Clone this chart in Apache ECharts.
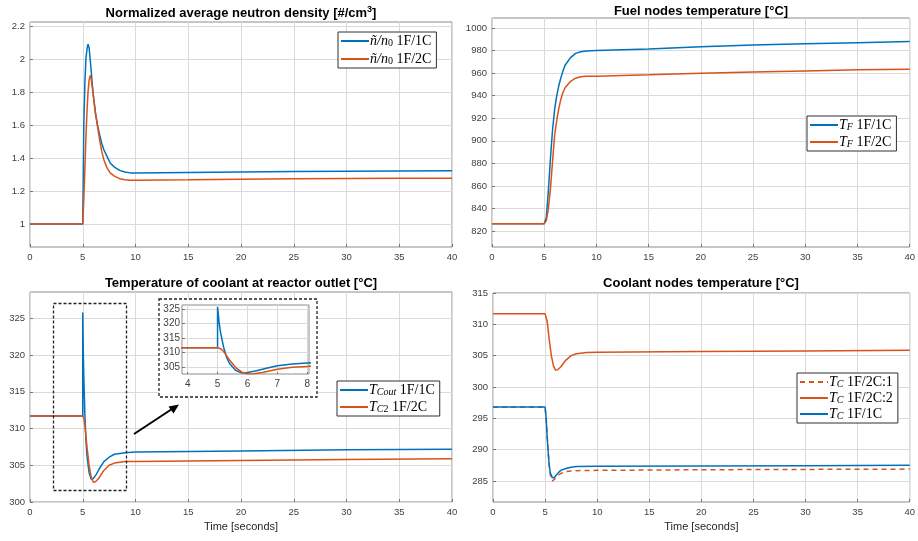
<!DOCTYPE html>
<html><head><meta charset="utf-8">
<script src="https://cdn.jsdelivr.net/npm/echarts@6/dist/echarts.min.js"></script>
<style>html,body{margin:0;padding:0;background:#fff}#c{width:918px;height:541px}</style>
</head><body><div id="c"></div>
<script>
// ---------- data ----------
const xTicks = [0, 5, 10, 15, 20, 25, 30, 35, 40];
const insetXTicks = [4, 5, 6, 7, 8];

// Panel 1: normalized neutron density
const tN1 = [0, 5, 5.05, 5.1, 5.2, 5.3, 5.4, 5.5, 5.55, 5.6, 5.7, 5.8, 5.9, 6.0, 6.2, 6.4, 6.6, 6.8, 7.0, 7.3, 7.6, 8.0, 8.5, 9.0, 9.5, 10, 15, 20, 25, 30, 35, 40];
const nBlue = [1, 1, 1.3, 1.6, 1.85, 2.0, 2.06, 2.09, 2.09, 2.07, 2.0, 1.93, 1.85, 1.78, 1.67, 1.6, 1.54, 1.49, 1.45, 1.41, 1.37, 1.345, 1.325, 1.315, 1.31, 1.31, 1.313, 1.316, 1.318, 1.32, 1.322, 1.323];
const tN2 = [0, 5, 5.1, 5.2, 5.3, 5.4, 5.5, 5.6, 5.7, 5.8, 5.9, 6.0, 6.2, 6.4, 6.6, 6.8, 7.0, 7.3, 7.6, 8.0, 8.5, 9.0, 9.5, 10, 15, 20, 25, 30, 35, 40];
const nOrange = [1, 1, 1.15, 1.33, 1.52, 1.68, 1.8, 1.87, 1.9, 1.88, 1.83, 1.78, 1.68, 1.59, 1.51, 1.44, 1.39, 1.34, 1.31, 1.29, 1.275, 1.268, 1.265, 1.265, 1.268, 1.272, 1.274, 1.276, 1.277, 1.278];
const yTicksN = [1, 1.2, 1.4, 1.6, 1.8, 2, 2.2];

// Panel 2: fuel nodes temperature
const tF = [0, 5, 5.2, 5.4, 5.6, 5.8, 6.0, 6.2, 6.4, 6.6, 6.8, 7.0, 7.5, 8.0, 8.5, 9.0, 10, 15, 20, 25, 30, 35, 40];
const fBlue = [826.5, 826.5, 832, 856, 885, 910, 928, 940, 949, 956, 962, 967, 973.5, 977.5, 979, 979.6, 980, 981.5, 983.5, 985, 986, 987, 988];
const fOrange = [826.5, 826.5, 829, 840, 858, 882, 905, 918, 929, 937, 943, 947, 952.5, 955.5, 956.8, 957.2, 957.3, 958.5, 960, 961, 962, 963, 963.5];
const yTicksF = [820, 840, 860, 880, 900, 920, 940, 960, 980, 1000];

// Panel 3: coolant at reactor outlet
const tCb = [0, 5, 5, 5.05, 5.1, 5.2, 5.3, 5.4, 5.6, 5.8, 6.0, 6.3, 6.6, 7.0, 7.5, 8, 9, 10, 20, 30, 40];
const cBlue = [311.7, 311.7, 325.8, 320.5, 317, 312, 308.5, 306.3, 304, 303.1, 303.2, 303.8, 304.6, 305.5, 306.1, 306.5, 306.7, 306.8, 306.95, 307.1, 307.2];
const tCo = [0, 5, 5.1, 5.2, 5.3, 5.4, 5.6, 5.8, 6.0, 6.2, 6.5, 7.0, 7.5, 8, 9, 10, 20, 30, 40];
const cOrange = [311.7, 311.7, 311.4, 310.5, 309, 307.5, 305, 303.4, 302.7, 302.75, 303.2, 304.3, 305.0, 305.3, 305.5, 305.5, 305.65, 305.8, 305.9];
const yTicksC = [300, 305, 310, 315, 320, 325];
const insetYTicks = [305, 310, 315, 320, 325];

// Panel 4: coolant nodes temperature
const tK = [0, 5, 5.1, 5.2, 5.3, 5.4, 5.5, 5.7, 5.9, 6.2, 6.5, 7, 7.5, 8, 10, 20, 30, 40];
const kBlue = [296.8, 296.8, 295, 292, 289.5, 287.5, 286.3, 285.5, 285.6, 286.2, 286.7, 287.0, 287.2, 287.3, 287.35, 287.4, 287.45, 287.5];
const kDash = [296.8, 296.8, 295.2, 292.3, 289.6, 287.4, 286.0, 285.0, 285.3, 285.8, 286.2, 286.5, 286.6, 286.65, 286.7, 286.8, 286.85, 286.9];
const tK2 = [0, 5, 5.1, 5.2, 5.3, 5.4, 5.6, 5.8, 6.0, 6.2, 6.5, 7.0, 7.5, 8, 9, 10, 20, 30, 40];
const kSolid = [311.7, 311.7, 311.4, 310.5, 309, 307.5, 305, 303.4, 302.7, 302.75, 303.2, 304.3, 305.0, 305.3, 305.5, 305.55, 305.65, 305.75, 305.85];
const yTicksK = [285, 290, 295, 300, 305, 310, 315];

// ---------- helpers ----------
const BLUE = '#0072BD', ORANGE = '#D95319';
const zip = (t, v) => t.map((x, i) => [x, v[i]]);
const labelStyle = {color: '#404040', fontSize: 9.5, fontFamily: 'Liberation Sans, Arial, sans-serif', formatter: v => String(v)};

function xAx(grid, extra) {
  return Object.assign({
    type: 'value', gridIndex: grid, min: 0, max: 40,
    axisLine: {show: false},
    axisTick: {show: true, inside: true, length: 3, lineStyle: {color: '#777'}, customValues: xTicks},
    axisLabel: Object.assign({margin: 5, customValues: xTicks}, labelStyle),
    splitLine: {show: true, lineStyle: {color: '#dadada', width: 1}}
  }, extra || {});
}
function yAx(grid, min, max, ticks, extra) {
  return Object.assign({
    type: 'value', gridIndex: grid, min: min, max: max,
    axisLine: {show: false},
    axisTick: {show: true, inside: true, length: 3, lineStyle: {color: '#777'}, customValues: ticks},
    axisLabel: Object.assign({margin: 5, customValues: ticks}, labelStyle),
    splitLine: {show: true, lineStyle: {color: '#dadada', width: 1}}
  }, extra || {});
}
function line(name, xi, yi, t, v, color, extra) {
  return Object.assign({
    name: name, type: 'line', xAxisIndex: xi, yAxisIndex: yi, data: zip(t, v),
    symbol: 'none', showSymbol: false, animation: false, clip: true,
    lineStyle: {color: color, width: 1.5}, itemStyle: {color: color}
  }, extra || {});
}

const legendText = {
  n1: '{i|ñ/n}{s|0}{r| 1F/1C}',
  n2: '{i|ñ/n}{s|0}{r| 1F/2C}',
  f1: '{i|T}{si|F}{r| 1F/1C}',
  f2: '{i|T}{si|F}{r| 1F/2C}',
  c1: '{i|T}{si|Cout}{r| 1F/1C}',
  c2: '{i|T}{si|C}{s|2}{r| 1F/2C}',
  k1: '{i|T}{si|C}{r| 1F/2C:1}',
  k2: '{i|T}{si|C}{r| 1F/2C:2}',
  k3: '{i|T}{si|C}{r| 1F/1C}'
};
const SERIF = 'Liberation Serif, DejaVu Serif, serif';
const legendRich = {
  i: {fontFamily: SERIF, fontStyle: 'italic', fontSize: 14, lineHeight: 14, color: '#000', verticalAlign: 'middle'},
  r: {fontFamily: SERIF, fontSize: 14, lineHeight: 14, color: '#000', verticalAlign: 'middle'},
  s: {fontFamily: SERIF, fontSize: 10, lineHeight: 9, color: '#000', verticalAlign: 'bottom'},
  si: {fontFamily: SERIF, fontStyle: 'italic', fontSize: 10, lineHeight: 9, color: '#000', verticalAlign: 'bottom'}
};
function legend(names, left, top, gap) {
  return {
    data: names, left: left, top: top, orient: 'vertical',
    backgroundColor: '#fff', borderColor: '#303030', borderWidth: 1,
    padding: [2, 5, 2, 2], itemWidth: 28, itemHeight: 13, itemGap: gap,
    selectedMode: false,
    itemStyle: {color: 'rgba(0,0,0,0)', borderWidth: 0, opacity: 0},
    formatter: n => legendText[n],
    textStyle: {padding: [0, 0, 0, -4], rich: legendRich}
  };
}

const titleStyle = {fontFamily: 'Liberation Sans, Arial, sans-serif', fontWeight: 'bold', fontSize: 13, fill: '#000'};
function title(x, y, text, rich) {
  return {type: 'text', x: x, y: y, z: 10,
    style: Object.assign({text: text, align: 'center', verticalAlign: 'middle', rich: rich}, titleStyle)};
}
const titleRich = {
  b: {fontFamily: 'Liberation Sans, Arial, sans-serif', fontWeight: 'bold', fontSize: 13, lineHeight: 16, color: '#000'},
  sup: {fontFamily: 'Liberation Sans, Arial, sans-serif', fontWeight: 'bold', fontSize: 9, lineHeight: 9, color: '#000', verticalAlign: 'top'}
};

const gridBase = {show: true, borderColor: '#8c8c8c', borderWidth: 1, backgroundColor: 'transparent', containLabel: false};
const nameStyle = {color: '#262626', fontSize: 11, fontFamily: 'Liberation Sans, Arial, sans-serif'};

const option = {
  animation: false,
  backgroundColor: '#fff',
  grid: [
    Object.assign({left: 30, top: 22, width: 422, height: 225}, gridBase),
    Object.assign({left: 492, top: 18, width: 418, height: 229}, gridBase),
    Object.assign({left: 30, top: 292, width: 422, height: 210}, gridBase),
    Object.assign({left: 493, top: 293, width: 417, height: 209}, gridBase),
    Object.assign({left: 182, top: 305, width: 127, height: 69}, gridBase, {backgroundColor: '#fff', z: 3})
  ],
  xAxis: [
    xAx(0), xAx(1),
    xAx(2, {name: 'Time [seconds]', nameLocation: 'middle', nameGap: 19, nameTextStyle: nameStyle}),
    xAx(3, {name: 'Time [seconds]', nameLocation: 'middle', nameGap: 19, nameTextStyle: nameStyle}),
    {
      type: 'value', gridIndex: 4, min: 3.81, max: 8.06, z: 3,
      axisLine: {show: false},
      axisTick: {show: true, inside: true, length: 2, lineStyle: {color: '#777'}, customValues: insetXTicks},
      axisLabel: Object.assign({}, labelStyle, {margin: 5, fontSize: 10, customValues: insetXTicks}),
      splitLine: {show: true, lineStyle: {color: '#dadada'}}
    }
  ],
  yAxis: [
    yAx(0, 0.861, 2.224, yTicksN),
    yAx(1, 805.8, 1008.9, yTicksF),
    yAx(2, 300, 328.6, yTicksC),
    yAx(3, 281.65, 315, yTicksK),
    yAx(4, 302.7, 326.4, insetYTicks, {z: 3, axisLabel: Object.assign({}, labelStyle, {margin: 2, fontSize: 10, customValues: insetYTicks})})
  ],
  legend: [
    legend(['n1', 'n2'], 338, 32, 4),
    legend(['f1', 'f2'], 807, 116, 3),
    legend(['c1', 'c2'], 337, 381, 3),
    legend(['k1', 'k2', 'k3'], 797, 373, 2)
  ],
  series: [
    line('n1', 0, 0, tN1, nBlue, BLUE),
    line('n2', 0, 0, tN2, nOrange, ORANGE),
    line('f1', 1, 1, tF, fBlue, BLUE),
    line('f2', 1, 1, tF, fOrange, ORANGE),
    line('c1', 2, 2, tCb, cBlue, BLUE),
    line('c2', 2, 2, tCo, cOrange, ORANGE),
    line('k1', 3, 3, tK, kDash, ORANGE, {lineStyle: {color: ORANGE, width: 1.5, type: [5, 4]}}),
    line('k2', 3, 3, tK2, kSolid, ORANGE),
    line('k3', 3, 3, tK, kBlue, BLUE),
    line('ic1', 4, 4, tCb, cBlue, BLUE, {z: 4}),
    line('ic2', 4, 4, tCo, cOrange, ORANGE, {z: 4})
  ],
  graphic: [
    title(241, 13, '{b|Normalized average neutron density [#/cm}{sup|3}{b|]}', titleRich),
    title(701, 11, 'Fuel nodes temperature [°C]'),
    title(241, 283, 'Temperature of coolant at reactor outlet [°C]'),
    title(701, 283, 'Coolant nodes temperature [°C]'),
    {type: 'rect', z: 1, shape: {x: 159, y: 299, width: 158, height: 98},
      style: {fill: '#fff', stroke: '#222', lineWidth: 1.3, lineDash: [3, 2]}},
    {type: 'rect', z: 5, shape: {x: 53.5, y: 303.5, width: 73, height: 187},
      style: {fill: 'none', stroke: '#222', lineWidth: 1.3, lineDash: [3, 2]}},
    {type: 'line', z: 5, shape: {x1: 134, y1: 434, x2: 172, y2: 409},
      style: {stroke: '#000', lineWidth: 2}},
    {type: 'polygon', z: 5, shape: {points: [[179, 404.5], [168.5, 406.5], [173.5, 413.5]]},
      style: {fill: '#000'}}
  ]
};

const chart = echarts.init(document.getElementById('c'), null, {renderer: 'canvas'});
chart.setOption(option);
</script>
</body></html>
